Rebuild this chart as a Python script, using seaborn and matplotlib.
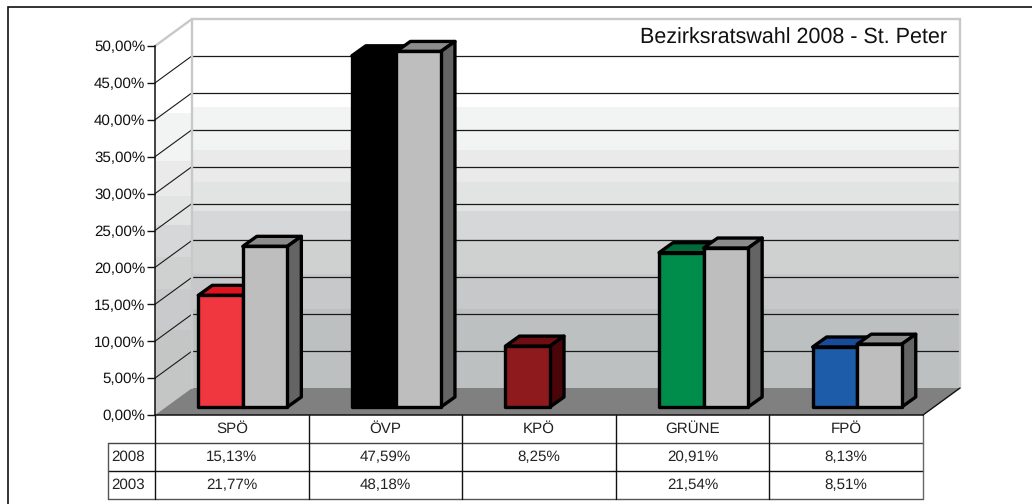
import numpy as np
import pandas as pd
import matplotlib
matplotlib.use('Agg')
import matplotlib.pyplot as plt
import seaborn as sns
from matplotlib.patches import Polygon, Rectangle
from matplotlib.ticker import FuncFormatter

parties = ['SPÖ', 'ÖVP', 'KPÖ', 'GRÜNE', 'FPÖ']
values_2008 = [15.13, 47.59, 8.25, 20.91, 8.13]
values_2003 = [21.77, 48.18, np.nan, 21.54, 8.51]
front_2008 = ['#f0373f', '#000000', '#8e1a1e', '#008c4a', '#1d5ca8']
top_2008 = ['#e0141e', '#000000', '#6e0e12', '#006b38', '#1a4b9a']
side_2008 = ['#8a1014', '#000000', '#4a0508', '#004a26', '#103060']
grey_front, grey_top, grey_side = '#bebebe', '#8c8c8c', '#646464'

# wall shading: back wall bands in percent, left wall bands in pixels (they run level)
band_edges = [38.1, 32.2, 27.9, 24.0, 20.2, 15.4, 10.7, 0]
band_cols = ['#f2f4f3', '#eaeaea', '#e2e3e3', '#d6d7d9', '#cfd0d0', '#c7c8ca', '#bdc0c0']
left_edges = [113, 161, 196, 225, 257, 289, 330, 415]
left_cols = ['#f2f4f3', '#eaeaea', '#e2e3e3', '#d6d7d9', '#cfd0d0', '#c9cacb', '#c4c6c6']

W, H = 1032, 504
X0, X1 = 155, 923       # front plane of the box
Y0, Y50 = 415, 46
DX, DY = 37, 27         # box depth in pixels
BX, BY = 11, 8          # bars stand this far behind the front plane
BAR_DX, BAR_DY = 14, 10 # bar depth
FONT = 10.9
BAR_LW = 2.4


def axes_at(x0, x1, ybottom, ytop, **kw):
    return fig.add_axes([x0 / W, 1 - ybottom / H, (x1 - x0) / W, (ybottom - ytop) / H], **kw)


sns.set_style('white')
plt.rcParams['font.family'] = ['Liberation Sans', 'DejaVu Sans']
plt.rcParams['text.hinting'] = 'none'
fig = plt.figure(figsize=(W / 100, H / 100), dpi=100)

# pixel canvas for the box, the table and the frame
px = fig.add_axes([0, 0, 1, 1], zorder=0)
px.set_xlim(0, W)
px.set_ylim(H, 0)
px.axis('off')

ppp = (Y0 - Y50) / 50


def back_y(p):
    return Y50 - DY + (50 - p) * ppp


# back wall
for top, bottom, col in zip(band_edges[:-1], band_edges[1:], band_cols):
    px.add_patch(Rectangle((X0 + DX, back_y(top)), X1 - X0, back_y(bottom) - back_y(top),
                           facecolor=col, edgecolor='none'))

# left wall, bands get clipped to the wall
wall = Polygon([(X0, Y50), (X0 + DX, Y50 - DY), (X0 + DX, Y0 - DY), (X0, Y0)], closed=True,
               facecolor='none', edgecolor='none')
px.add_patch(wall)
for top, bottom, col in zip(left_edges[:-1], left_edges[1:], left_cols):
    r = Rectangle((X0, top), DX, bottom - top, facecolor=col, edgecolor='none')
    px.add_patch(r)
    r.set_clip_path(wall)

# floor
px.add_patch(Polygon([(X0, Y0), (X0 + DX, Y0 - DY), (X1 + DX, Y0 - DY), (X1, Y0)], closed=True,
                     facecolor='#808080', edgecolor='none'))

# gridlines on both walls
for p in range(5, 50, 5):
    y = back_y(p)
    px.plot([X0 + DX, X1 + DX], [y, y], color='#1a1a1a', lw=0.9, solid_capstyle='butt')
    px.plot([X0, X0 + DX], [y + DY, y], color='#1a1a1a', lw=0.8)

# light edges of the box
edge_col = '#c8c8c8'
px.plot([X0, X0 + DX, X1 + DX, X1 + DX], [Y50, Y50 - DY, Y50 - DY, Y0 - DY], color=edge_col, lw=1.7,
        solid_joinstyle='miter')
px.plot([X0 + DX, X0 + DX], [Y50 - DY, Y0 - DY], color=edge_col, lw=1.7)

# frame, only top and left are inside the picture
px.plot([8, 8, W], [H, 7, 7], color='#111111', lw=1.2, solid_joinstyle='miter')

# table
row_y = [Y0, 442.5, 471, 499]
col_x = np.linspace(X0, X1, len(parties) + 1)
for y, c in zip(row_y[1:], ['#444444', '#111111', '#555555']):
    px.plot([X0, X1], [y, y], color=c, lw=1)
    px.plot([108, X0], [y, y], color=c, lw=1)
for x in col_x:
    px.plot([x, x], [Y0, row_y[-1]], color='#111111' if x < X1 else '#666666', lw=1)
px.plot([108, 108], [row_y[1], row_y[-1]], color='#555555', lw=1)
px.plot([X1, X1 + DX], [Y0, Y0 - DY], color='#111111', lw=1)


def pct(v):
    return '' if np.isnan(v) else f'{v:.2f}%'.replace('.', ',')


centres = (col_x[:-1] + col_x[1:]) / 2
row_mid = [(a + b) / 2 for a, b in zip(row_y[:-1], row_y[1:])]
for i, name in enumerate(parties):
    px.text(centres[i], row_mid[0], name, ha='center', va='center', fontsize=FONT, color='#222222')
    px.text(centres[i], row_mid[1], pct(values_2008[i]), ha='center', va='center', fontsize=FONT, color='#222222')
    px.text(centres[i], row_mid[2], pct(values_2003[i]), ha='center', va='center', fontsize=FONT, color='#222222')
px.text(111, row_mid[1], '2008', ha='left', va='center', fontsize=FONT, color='#222222')
px.text(111, row_mid[2], '2003', ha='left', va='center', fontsize=FONT, color='#222222')

px.text(947, 38, 'Bezirksratswahl 2008 - St. Peter', ha='right', va='center', fontsize=15.5, color='#111111')

# value axis on the front plane
front = axes_at(X0, X1, Y0, Y50, zorder=1)
front.patch.set_alpha(0)
front.set_ylim(0, 50)
front.set_xticks([])
front.set_yticks(np.arange(0, 51, 5))
front.yaxis.set_major_formatter(FuncFormatter(lambda v, _: f'{v:.2f}%'.replace('.', ',')))
front.tick_params(axis='y', left=True, length=6, width=1, labelsize=FONT, pad=1, colors='#111111')
for s in ['top', 'right']:
    front.spines[s].set_visible(False)
for s in ['left', 'bottom']:
    front.spines[s].set_color('#111111')
    front.spines[s].set_linewidth(1.1)

# bars stand on a plane a little behind the front
df = pd.DataFrame({
    'party': parties * 2,
    'year': ['2008'] * len(parties) + ['2003'] * len(parties),
    'value': values_2008 + values_2003,
})
ax = axes_at(X0 + BX, X1 + BX, Y0 - BY, Y50 - BY, zorder=2)
ax.patch.set_alpha(0)
sns.barplot(data=df, x='party', y='value', hue='year', hue_order=['2008', '2003'], order=parties,
            palette={'2008': '#000000', '2003': grey_front}, width=0.58, gap=0, saturation=1,
            edgecolor='black', linewidth=BAR_LW, legend=False, ax=ax)
ax.set_xlim(-0.5, len(parties) - 0.5)
ax.set_ylim(0, 50)
ax.axis('off')

ddx = BAR_DX * len(parties) / (X1 - X0)
ddy = BAR_DY / ppp


def add_depth(bar, top_col, side_col, z):
    x0, w, h = bar.get_x(), bar.get_width(), bar.get_height()
    x1 = x0 + w
    ax.add_patch(Polygon([(x0, h), (x0 + ddx, h + ddy), (x1 + ddx, h + ddy), (x1, h)], closed=True,
                         facecolor=top_col, edgecolor='black', lw=BAR_LW, joinstyle='round',
                         clip_on=False, zorder=z))
    ax.add_patch(Polygon([(x1, 0), (x1 + ddx, ddy), (x1 + ddx, h + ddy), (x1, h)], closed=True,
                         facecolor=side_col, edgecolor='black', lw=BAR_LW, joinstyle='round',
                         clip_on=False, zorder=z))
    bar.set_zorder(z + 0.01)
    bar.set_clip_on(False)
    bar.set_joinstyle('round')


bars_2008 = [b for b in ax.containers[0] if not np.isnan(b.get_height())]
bars_2003 = [b for b in ax.containers[1] if not np.isnan(b.get_height())]
for i, b in enumerate(bars_2008):
    b.set_facecolor(front_2008[i])
    add_depth(b, top_2008[i], side_2008[i], 3)
for b in bars_2003:
    add_depth(b, grey_top, grey_side, 4)

fig.savefig('out.png', dpi=100)
